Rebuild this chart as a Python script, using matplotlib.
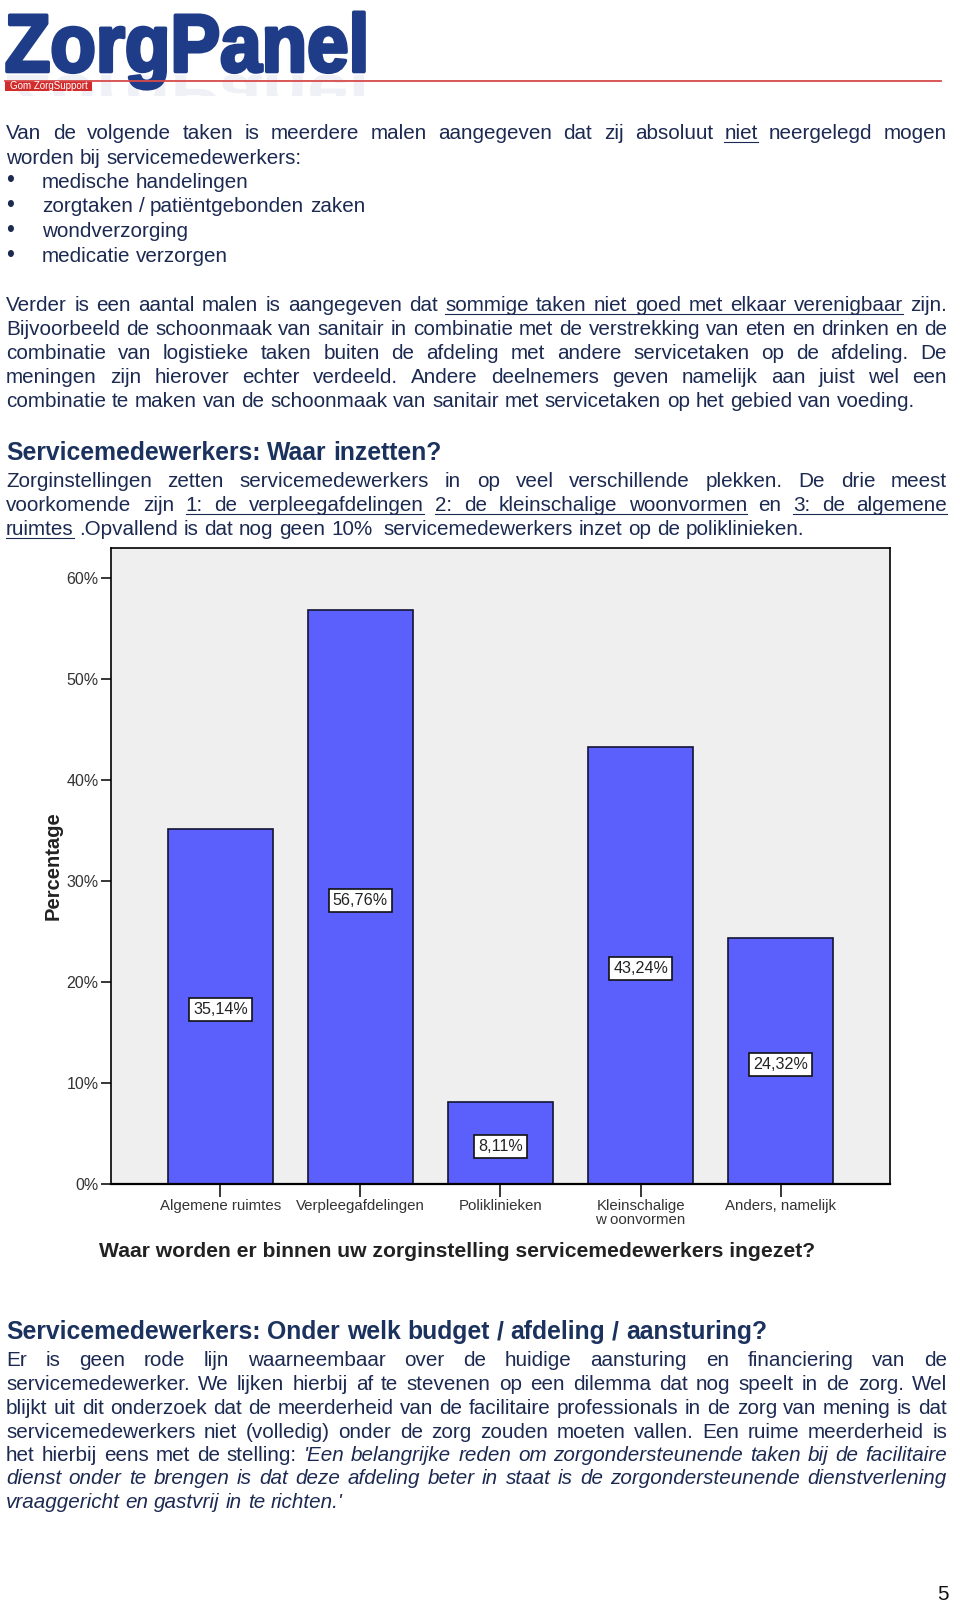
import numpy as np
import matplotlib
matplotlib.use("Agg")
import matplotlib.pyplot as plt
from matplotlib.textpath import TextPath
from matplotlib.font_manager import FontProperties
from matplotlib.patches import PathPatch, Rectangle
from matplotlib.transforms import Affine2D
from matplotlib.lines import Line2D

# --- data van de grafiek ---
categorieen = ["Algemene ruimtes", "Verpleegafdelingen", "Poliklinieken",
               "Kleinschalige\nw oonvormen", "Anders, namelijk"]
percentages = [35.14, 56.76, 8.11, 43.24, 24.32]
y_ticks = [0, 10, 20, 30, 40, 50, 60]
y_tick_labels = ["0%", "10%", "20%", "30%", "40%", "50%", "60%"]
grafiek_titel = "Waar worden er binnen uw zorginstelling servicemedewerkers ingezet?"

W, H = 960, 1603
TEKST = "#1c2a52"
KOP = "#1b325e"

plt.rcParams["font.family"] = ["Liberation Sans", "DejaVu Sans"]

fig = plt.figure(figsize=(W / 100, H / 100), dpi=100)
fig.patch.set_facecolor("white")
renderer = fig.canvas.get_renderer()
PIX = Affine2D().scale(1 / W, 1 / H) + fig.transFigure


def fy(y):
    return 1 - y / H


def breedte(tekst, size, **kw):
    t = fig.text(0, 0, tekst, fontsize=size, **kw)
    b = t.get_window_extent(renderer).width
    t.remove()
    return b


BODY = 10 * 912 / breedte("combinatie te maken van de schoonmaak van sanitair met "
                          "servicetaken op het gebied van voeding.", 10)
KOPMAAT = 10 * 437 / breedte("Servicemedewerkers: Waar inzetten?", 10, weight="bold")


def regel(y, tekst, uitvullen=False, x0=6.0, x1=947.0, size=None, kleur=TEKST, bold=False):
    size = size or BODY
    em = size * 100 / 72
    tokens = []
    onder = schuin = False
    span = 0
    for w in tekst.split(" "):
        while w[:1] in ("_", "*") and len(w) > 1:
            if w[0] == "_":
                onder = True
                span += 1
            else:
                schuin = True
            w = w[1:]
        stop = []
        while w[-1:] in ("_", "*") and len(w) > 1:
            stop.append(w[-1])
            w = w[:-1]
        tokens.append((w, onder, schuin, span))
        if "_" in stop:
            onder = False
        if "*" in stop:
            schuin = False

    arts, breedtes = [], []
    for w, o, s, sp in tokens:
        if not w:
            arts.append(None)
            breedtes.append(0)
            continue
        t = fig.text(0, fy(y), w, fontsize=size, color=kleur, va="baseline", ha="left",
                     style="italic" if s else "normal",
                     weight="bold" if bold else "normal")
        arts.append(t)
        breedtes.append(t.get_window_extent(renderer).width)

    gap = 0.278 * em
    if uitvullen and len(tokens) > 1:
        gap = (x1 - x0 - sum(breedtes)) / (len(tokens) - 1)
    x = x0
    groepen = {}
    for t, b, (w, o, s, sp) in zip(arts, breedtes, tokens):
        if t is not None:
            t.set_x(x / W)
        if o:
            g = groepen.setdefault(sp, [x, x + b])
            g[1] = x + b
        x += b + gap
    for a, b in groepen.values():
        fig.add_artist(Line2D([a / W, b / W], [fy(y + 2.5)] * 2, transform=fig.transFigure,
                              color=kleur, lw=0.8))


# --- logo ---
fp = FontProperties(family="Liberation Sans", weight="bold")
tp = TextPath((0, 0), "ZorgPanel", size=1, prop=fp)
ext = tp.get_extents()
sx = (364 - 7) / ext.width
sy = 58.5 / 0.716
logo_tf = Affine2D().translate(-ext.x0, 0).scale(sx, sy).translate(7, H - 71.5) + PIX
fig.add_artist(PathPatch(tp, transform=logo_tf, facecolor="#1f3c88", edgecolor="#1f3c88",
                         lw=2.6, joinstyle="round"))
refl_tf = Affine2D().translate(-ext.x0, 0).scale(sx, -sy * 0.7).translate(7, H - 75) + PIX
refl = PathPatch(tp, transform=refl_tf, facecolor="#1f3c88", edgecolor="none", alpha=0.07)
fig.add_artist(refl)
refl.set_clip_path(Rectangle((0, H - 96), 400, 21, transform=PIX))

fig.add_artist(Line2D([5 / W, 941 / W], [fy(80.5)] * 2, transform=fig.transFigure,
                      color="#d84a4a", lw=1.3))
fig.add_artist(Rectangle((5, H - 91), 87, 10, transform=PIX, facecolor="#d22b2b",
                         edgecolor="none"))
fig.text(48.5 / W, fy(86.3), "Gom ZorgSupport", fontsize=7, color="white",
         ha="center", va="center")

# --- tekst boven de grafiek ---
regel(139, "Van de volgende taken is meerdere malen aangegeven dat zij absoluut _niet_ neergelegd mogen", True)
regel(163.5, "worden bij servicemedewerkers:")
bullets = ["medische handelingen", "zorgtaken / patiëntgebonden zaken",
           "wondverzorging", "medicatie verzorgen"]
for i, b in enumerate(bullets):
    yb = 187.5 + i * 24.8
    fig.text(6 / W, fy(yb), "\u2022", fontsize=BODY * 1.1, color=TEKST, va="baseline")
    regel(yb, b, x0=42)

regel(311, "Verder is een aantal malen is aangegeven dat _sommige taken niet goed met elkaar verenigbaar_ zijn.", True)
regel(335.3, "Bijvoorbeeld de schoonmaak van sanitair in combinatie met de verstrekking van eten en drinken en de", True)
regel(359.3, "combinatie van logistieke taken buiten de afdeling met andere servicetaken op de afdeling. De", True)
regel(383.3, "meningen zijn hierover echter verdeeld. Andere deelnemers geven namelijk aan juist wel een", True)
regel(406.7, "combinatie te maken van de schoonmaak van sanitair met servicetaken op het gebied van voeding.")

regel(460, "Servicemedewerkers: Waar inzetten?", size=KOPMAAT, kleur=KOP, bold=True)
regel(487, "Zorginstellingen zetten servicemedewerkers in op veel verschillende plekken. De drie meest", True)
regel(511.5, "voorkomende zijn _1: de verpleegafdelingen_ _2: de kleinschalige woonvormen_ en _3: de algemene_", True)
regel(535, "_ruimtes_ .Opvallend is dat nog geen 10%  servicemedewerkers inzet op de poliklinieken.")

# --- grafiek ---
ax = fig.add_axes([111 / W, 1 - 1184 / H, (890 - 111) / W, (1184 - 548) / H])
ax.set_facecolor("#efefef")
x = np.arange(len(categorieen))
ax.bar(x, percentages, width=0.75, color="#5b5ffb", edgecolor="#141433", linewidth=1.2, zorder=2)
for xi, v in zip(x, percentages):
    ax.text(xi, v / 2 - 0.3, f"{v:.2f}".replace(".", ",") + "%", ha="center", va="center",
            fontsize=11.6, color="#222222", zorder=3,
            bbox=dict(boxstyle="square,pad=0.25", facecolor="white", edgecolor="#111111", lw=1.2))
ax.set_xlim(-0.78, 4.78)
ax.set_ylim(0, 62.94)
ax.set_yticks(y_ticks)
ax.set_yticklabels(y_tick_labels)
ax.set_xticks(x)
ax.set_xticklabels(categorieen)
for s in ax.spines.values():
    s.set_color("black")
    s.set_linewidth(1.2)
ax.spines["bottom"].set_linewidth(1.6)
ax.tick_params(axis="y", length=7.5, width=1.1, pad=1.5, labelsize=11.5, labelcolor="#333333")
ax.tick_params(axis="x", length=9, width=1.1, pad=2, labelsize=10.8, labelcolor="#333333")
for lbl in ax.get_xticklabels():
    lbl.set_linespacing(0.95)

fig.text(53 / W, fy(866), "Percentage", rotation=90, fontsize=14.5, weight="bold",
         color="#222222", ha="center", va="center")
titel_maat = 10 * 718 / breedte(grafiek_titel, 10, weight="bold")
fig.text(457 / W, fy(1257), grafiek_titel, fontsize=titel_maat, weight="bold",
         color="#222222", ha="center", va="baseline")

# --- tekst onder de grafiek ---
regel(1339, "Servicemedewerkers: Onder welk budget / afdeling / aansturing?", size=KOPMAAT, kleur=KOP, bold=True)
regel(1366, "Er is geen rode lijn waarneembaar over de huidige aansturing en financiering van de", True)
regel(1390.3, "servicemedewerker. We lijken hierbij af te stevenen op een dilemma dat nog speelt in de zorg. Wel", True)
regel(1413.7, "blijkt uit dit onderzoek dat de meerderheid van de facilitaire professionals in de zorg van mening is dat", True)
regel(1437.7, "servicemedewerkers niet (volledig) onder de zorg zouden moeten vallen. Een ruime meerderheid is", True)
regel(1461, "het hierbij eens met de stelling: *'Een belangrijke reden om zorgondersteunende taken bij de facilitaire*", True)
regel(1484.3, "*dienst onder te brengen is dat deze afdeling beter in staat is de zorgondersteunende dienstverlening*", True)
regel(1507.7, "*vraaggericht en gastvrij in te richten.'*")

fig.text(949 / W, fy(1600), "5", fontsize=BODY, color="#111111", ha="right", va="baseline")

fig.savefig("out.png", dpi=100, facecolor="white")
